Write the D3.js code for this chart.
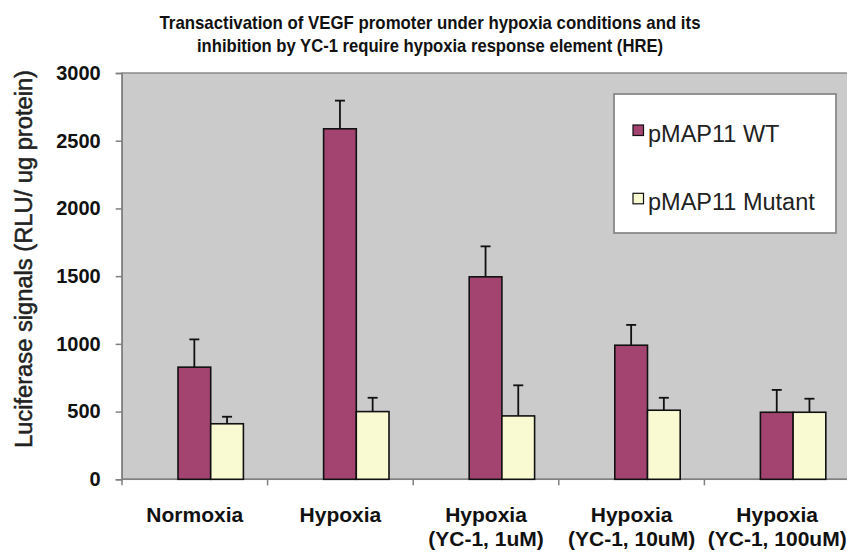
<!DOCTYPE html>
<html>
<head>
<meta charset="utf-8">
<script src="https://cdn.jsdelivr.net/npm/d3@7"></script>
<style>
  body { margin: 0; background: #fff; }
  svg { display: block; font-family: 'Liberation Sans', Arial, sans-serif; }
</style>
</head>
<body>
<svg id="chart" width="847" height="552"></svg>
<script>
const categories = [
  ['Normoxia'],
  ['Hypoxia'],
  ['Hypoxia', '(YC-1, 1uM)'],
  ['Hypoxia', '(YC-1, 10uM)'],
  ['Hypoxia', '(YC-1, 100uM)']
]
const seriesNames = ['pMAP11 WT', 'pMAP11 Mutant']
const wtValues = [828, 2588, 1495, 990, 495]
const wtErrors = [205, 208, 225, 150, 165]
const mutantValues = [410, 500, 468, 510, 495]
const mutantErrors = [52, 102, 226, 92, 100]
const yTicks = [0, 500, 1000, 1500, 2000, 2500, 3000]
const titleLines = [
  'Transactivation of VEGF promoter under hypoxia conditions and its',
  'inhibition by YC-1 require hypoxia response element (HRE)'
]

const colors = ['#a34470', '#fafad2']

const svg = d3.select('#chart')
const margin = { top: 73, left: 122, right: -3, bottom: 72 }
const width = 847
const height = 552
const plotBottom = height - margin.bottom - 0.7

const xScale = d3.scaleBand()
  .domain(d3.range(categories.length))
  .range([margin.left, width - margin.right])

const yScale = d3.scaleLinear()
  .domain([0, 3000])
  .range([plotBottom, margin.top])

// plot background
svg.append('rect')
  .attr('x', margin.left)
  .attr('y', margin.top)
  .attr('width', width - margin.right - margin.left)
  .attr('height', plotBottom - margin.top)
  .style('fill', '#cbcbcb')
  .style('stroke', '#8a8a8a')
  .style('stroke-width', 1.5)

// title (squeezed a bit, like the original)
svg.append('g')
  .selectAll('text')
  .data(titleLines)
  .join('text')
  .attr('x', 430)
  .attr('y', (d, i) => 29 + i * 23)
  .attr('text-anchor', 'middle')
  .attr('textLength', (d, i) => (i === 0 ? 541 : 466))
  .attr('lengthAdjust', 'spacingAndGlyphs')
  .style('font-weight', 'bold')
  .style('font-size', '19px')
  .style('fill', '#111')
  .text((d) => d)

// y axis
const yAxis = svg.append('g')
  .attr('transform', `translate(${margin.left - 0.3},0)`)
  .call(d3.axisLeft(yScale).tickValues(yTicks).tickSize(6).tickPadding(15).tickFormat(d3.format('d')))
yAxis.select('.domain').style('stroke', '#808080').style('stroke-width', 1.5)
yAxis.selectAll('.tick line').style('stroke', '#808080').style('stroke-width', 1.5)
yAxis.selectAll('.tick text')
  .style('font-size', '20px')
  .style('font-weight', 'bold')
  .style('fill', '#111')
  .attr('font-family', null)

svg.append('text')
  .attr('transform', `translate(31.5,${259}) rotate(-90)`)
  .attr('text-anchor', 'middle')
  .attr('textLength', 378)
  .attr('lengthAdjust', 'spacingAndGlyphs')
  .style('font-size', '23px')
  .style('fill', '#222')
  .style('stroke', '#222')
  .style('stroke-width', 0.5)
  .text('Luciferase signals (RLU/ ug protein)')

// x axis
svg.append('line')
  .attr('x1', margin.left)
  .attr('x2', width)
  .attr('y1', plotBottom)
  .attr('y2', plotBottom)
  .style('stroke', '#808080')
  .style('stroke-width', 1.5)

svg.append('g')
  .selectAll('line')
  .data(d3.range(categories.length))
  .join('line')
  .attr('x1', (d) => xScale(d))
  .attr('x2', (d) => xScale(d))
  .attr('y1', plotBottom)
  .attr('y2', plotBottom + 6)
  .style('stroke', '#808080')
  .style('stroke-width', 1.5)

svg.append('g')
  .selectAll('text')
  .data(categories)
  .join('text')
  .attr('text-anchor', 'middle')
  .style('font-size', '21px')
  .style('font-weight', 'bold')
  .style('fill', '#111')
  .each(function (lines, i) {
    d3.select(this)
      .selectAll('tspan')
      .data(lines)
      .join('tspan')
      .attr('x', xScale(i) + xScale.bandwidth() / 2)
      .attr('y', (d, j) => 522 + j * 24)
      .text((d) => d)
  })

// bars
const barWidth = 32.7
const barOffset = 56
const dataset = []
categories.forEach((c, i) => {
  dataset.push({ cat: i, series: 0, value: wtValues[i], err: wtErrors[i] })
  dataset.push({ cat: i, series: 1, value: mutantValues[i], err: mutantErrors[i] })
})
const barX = (d) => xScale(d.cat) + barOffset + d.series * barWidth

const bars = svg.append('g').attr('class', 'chart-bars')

bars.selectAll('.err')
  .data(dataset)
  .join('g')
  .attr('class', 'err')
  .each(function (d) {
    const g = d3.select(this)
    const cx = barX(d) + barWidth / 2
    g.append('line')
      .attr('x1', cx).attr('x2', cx)
      .attr('y1', yScale(d.value))
      .attr('y2', yScale(d.value + d.err))
    g.append('line')
      .attr('x1', cx - 5).attr('x2', cx + 5)
      .attr('y1', yScale(d.value + d.err))
      .attr('y2', yScale(d.value + d.err))
  })
  .selectAll('line')
  .style('stroke', '#111')
  .style('stroke-width', 1.8)

bars.selectAll('.bar')
  .data(dataset)
  .join('rect')
  .attr('class', 'bar')
  .attr('x', barX)
  .attr('width', barWidth)
  .attr('y', (d) => yScale(d.value))
  .attr('height', (d) => plotBottom - yScale(d.value))
  .style('fill', (d) => colors[d.series])
  .style('stroke', '#111')
  .style('stroke-width', 1.6)

// legend
const legend = svg.append('g').attr('transform', 'translate(614,94)')
legend.append('rect')
  .attr('width', 222)
  .attr('height', 139)
  .style('fill', '#fff')
  .style('stroke', '#8a8a8a')
  .style('stroke-width', 1.8)

const items = legend.selectAll('.item')
  .data(seriesNames)
  .join('g')
  .attr('class', 'item')
  .attr('transform', (d, i) => `translate(19,${31 + i * 68.3})`)
items.append('rect')
  .attr('width', 10.5)
  .attr('height', 10.5)
  .style('fill', (d, i) => colors[i])
  .style('stroke', '#111')
  .style('stroke-width', 1.2)
items.append('text')
  .attr('x', 15)
  .attr('y', 16.7)
  .style('font-size', '23.5px')
  .style('fill', '#222')
  .text((d) => d)
</script>
</body>
</html>
